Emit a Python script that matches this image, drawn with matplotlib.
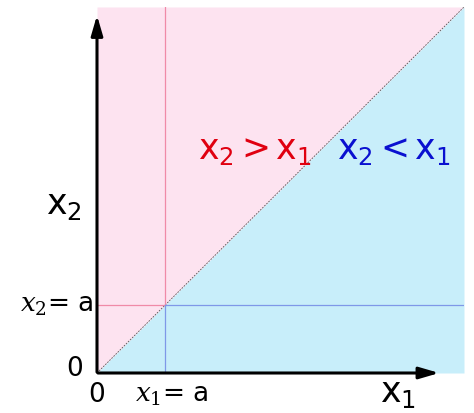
import matplotlib
matplotlib.use("Agg")
import matplotlib.pyplot as plt

a = 0.185
diag_x = [0, 1]
diag_y = [0, 1]

fig = plt.figure(figsize=(4.74, 4.13), dpi=100)
ax = fig.add_axes([97/474, 40/413, 367/474, 366/413])
ax.set_xlim(0, 1); ax.set_ylim(0, 1)
ax.axis('off')
ax.fill_between(diag_x, diag_y, 1, color='#fde3f0', lw=0)
ax.fill_between(diag_x, 0, diag_y, color='#c8eefa', lw=0)
ax.plot(diag_x, diag_y, ls=(0, (2, 1.5)), color='#555555', lw=0.6)
ax.plot([a, a], [a, 1], color='#f08aa8', lw=0.9)
ax.plot([0, a], [a, a], color='#f08aa8', lw=0.9)
ax.plot([a, a], [0, a], color='#7f98e8', lw=0.9)
ax.plot([a, 1], [a, a], color='#7f98e8', lw=0.9)
ax.annotate('', xy=(0.94, 0), xytext=(-0.005, 0),
            arrowprops=dict(arrowstyle='-|>,head_length=1.2,head_width=0.35', color='black', lw=2.2), annotation_clip=False)
ax.annotate('', xy=(0, 0.985), xytext=(0, -0.005),
            arrowprops=dict(arrowstyle='-|>,head_length=1.2,head_width=0.35', color='black', lw=2.2), annotation_clip=False)
fs = 25
ax.text(0.43, 0.61, r'x$_2$$\,$>$\,$x$_1$', color='#e00010', fontsize=fs, ha='center', va='center')
ax.text(0.81, 0.61, r'x$_2$$\,$<$\,$x$_1$', color='#0a10d0', fontsize=fs, ha='center', va='center')
ax.text(-0.09, 0.46, r'x$_2$', fontsize=fs, ha='center', va='center')
ax.text(0.82, -0.055, r'x$_1$', fontsize=fs, ha='center', va='center')
ax.text(0.0, -0.06, '0', fontsize=19, ha='center', va='center')
ax.text(-0.06, 0.01, '0', fontsize=19, ha='center', va='center')
ax.text(a + 0.02, -0.06, r'$x_1$= a', fontsize=19, ha='center', va='center', math_fontfamily='dejavuserif')
ax.text(-0.01, a, r'$x_2$= a', fontsize=19, ha='right', va='center', math_fontfamily='dejavuserif')
fig.savefig('out.png', dpi=100)
